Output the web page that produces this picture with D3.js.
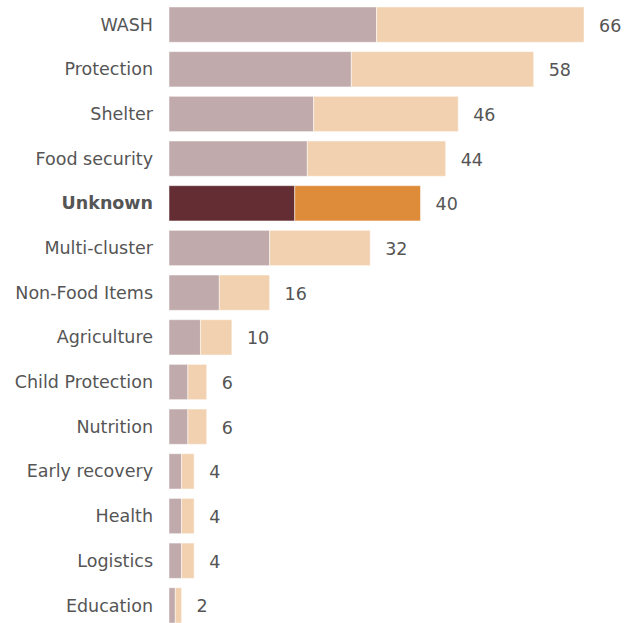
<!DOCTYPE html>
<html><head><meta charset="utf-8">
<script src="https://cdn.jsdelivr.net/npm/d3@7/dist/d3.min.js"></script>
<style>body{margin:0;background:#fff}</style>
</head><body><svg id="c" width="628" height="623"></svg>
<script>
const categories = ["WASH","Protection","Shelter","Food security","Unknown","Multi-cluster","Non-Food Items","Agriculture","Child Protection","Nutrition","Early recovery","Health","Logistics","Education"];
const firstPart = [33,29,23,22,20,16,8,5,3,3,2,2,2,1];
const secondPart = [33,29,23,22,20,16,8,5,3,3,2,2,2,1];
const totals = [66,58,46,44,40,32,16,10,6,6,4,4,4,2];
const highlight = "Unknown";

const svg = d3.select("#c");
const x = d3.scaleLinear().domain([0,66]).range([169,584]);
const y = d3.scaleBand().domain(categories).range([2.5,627.5]).paddingInner(0.21).paddingOuter(0.1);

const g = svg.append("g");
const font = "Tahoma, 'DejaVu Sans', sans-serif";
categories.forEach((c,i)=>{
  const hi = c===highlight;
  g.append("rect").attr("x",x(0)).attr("y",y(c)).attr("width",x(firstPart[i])-x(0)).attr("height",y.bandwidth())
   .attr("fill",hi?"#632d33":"#c0aaab").attr("stroke","rgba(255,255,255,0.5)").attr("stroke-width",1);
  g.append("rect").attr("x",x(firstPart[i])).attr("y",y(c)).attr("width",x(firstPart[i]+secondPart[i])-x(firstPart[i])).attr("height",y.bandwidth())
   .attr("fill",hi?"#df8c3a":"#f2d1b0").attr("stroke","rgba(255,255,255,0.5)").attr("stroke-width",1);
  g.append("text").attr("x",153).attr("y",y(c)+y.bandwidth()/2).attr("dy","0.35em").attr("text-anchor","end")
   .attr("font-family",font).attr("font-size",17.5).attr("font-weight",hi?"bold":"normal").attr("fill","#555").text(c);
  g.append("text").attr("x",x(totals[i])+15).attr("y",y(c)+y.bandwidth()/2).attr("dy","0.4em")
   .attr("font-family",font).attr("font-size",17.5).attr("fill","#555").text(totals[i]);
});
</script></body></html>
